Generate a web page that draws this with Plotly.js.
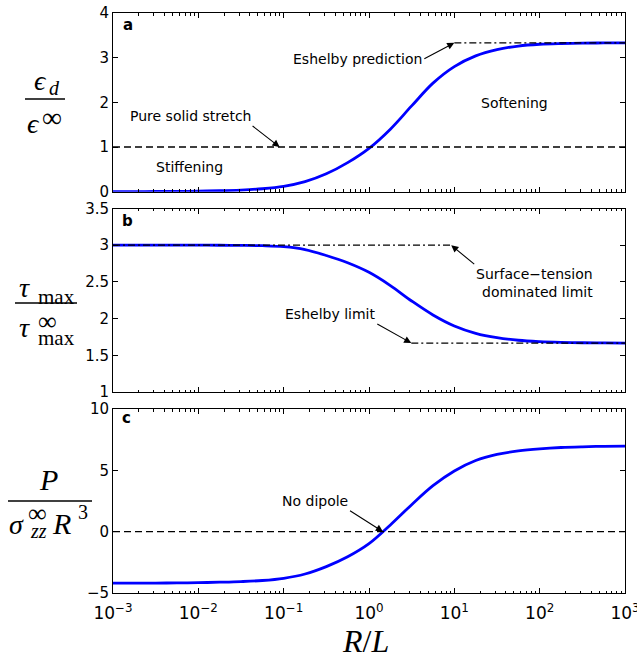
<!DOCTYPE html>
<html><head><meta charset="utf-8">
<script src="https://cdn.plot.ly/plotly-3.0.1.min.js"></script>
<style>body{margin:0;padding:0;background:#fff}</style>
</head><body><div id="chart" style="width:637px;height:661px"></div>
<script>
// ---- data ----
const rOverL = [0.001, 0.00178, 0.00316, 0.00562, 0.01, 0.0178, 0.0316, 0.0562, 0.1, 0.178, 0.316, 0.562, 1, 1.78, 3.16, 5.62, 10, 17.8, 31.6, 56.2, 100, 178, 316, 562, 1000];
const epsRatio = [0.0, 0.002, 0.004, 0.007, 0.012, 0.021, 0.037, 0.066, 0.12, 0.225, 0.40, 0.65, 0.97, 1.40, 1.92, 2.43, 2.80, 3.04, 3.18, 3.26, 3.30, 3.317, 3.325, 3.33, 3.333];
const tauRatio = [3.0, 3.0, 3.0, 3.0, 3.0, 2.999, 2.997, 2.993, 2.98, 2.94, 2.86, 2.76, 2.63, 2.45, 2.24, 2.05, 1.90, 1.80, 1.74, 1.705, 1.687, 1.677, 1.671, 1.668, 1.667];
const dipole = [-4.2, -4.195, -4.19, -4.175, -4.16, -4.12, -4.07, -3.98, -3.80, -3.45, -2.85, -2.05, -0.98, 0.55, 2.2, 3.75, 4.95, 5.8, 6.3, 6.58, 6.75, 6.86, 6.92, 6.96, 6.98];

const eshelbyPredX = [10, 1000], eshelbyPredY = [3.333, 3.333];
const stretchX = [0.001, 1000], stretchY = [1, 1];
const surfX = [0.001, 9], surfY = [3, 3];
const eshLimX = [3.13, 1000], eshLimY = [1.667, 1.667];
const zeroX = [0.001, 1000], zeroY = [0, 0];

const xTickVals = [0.001, 0.01, 0.1, 1, 10, 100, 1000];
const xTickText = ['10<sup>−3</sup>', '10<sup>−2</sup>', '10<sup>−1</sup>', '10<sup>0</sup>', '10<sup>1</sup>', '10<sup>2</sup>', '10<sup>3</sup>'];
const yTicksA = [0, 1, 2, 3, 4];
const yTicksB = [1, 1.5, 2, 2.5, 3, 3.5];
const yTicksC = [-5, 0, 5, 10];

// ---- styling ----
const BLUE = '#0000ff';
const SANS = 'DejaVu Sans, Liberation Sans, sans-serif';
const SERIF = 'Liberation Serif, DejaVu Serif, serif';
const DASH = '7px,4px';
const DASHDOT = '7px,3px,2px,3px';

function blue(y, xa, ya) {
  return {x: rOverL, y: y, xaxis: xa, yaxis: ya, type: 'scatter', mode: 'lines',
    line: {color: BLUE, width: 2.8, shape: 'spline', smoothing: 1}, hoverinfo: 'skip'};
}
function black(x, y, xa, ya, dash) {
  return {x: x, y: y, xaxis: xa, yaxis: ya, type: 'scatter', mode: 'lines',
    line: {color: '#000', width: 1.3, dash: dash}, hoverinfo: 'skip'};
}

const traces = [
  blue(epsRatio, 'x', 'y'),
  black(stretchX, stretchY, 'x', 'y', DASH),
  black(eshelbyPredX, eshelbyPredY, 'x', 'y', DASHDOT),
  blue(tauRatio, 'x2', 'y2'),
  black(surfX, surfY, 'x2', 'y2', DASHDOT),
  black(eshLimX, eshLimY, 'x2', 'y2', DASHDOT),
  blue(dipole, 'x3', 'y3'),
  black(zeroX, zeroY, 'x3', 'y3', DASH)
];

// pixel -> paper helpers (plot area: x 113..625, y 13..593)
const L = 113, R = 12, T = 13, B = 68, W = 637, H = 661;
const PW = W - L - R, PH = H - T - B;
const px = v => (v - L) / PW;
const py = v => (H - B - v) / PH;

function xAx(showLabels, anchor) {
  return {type: 'log', range: [-3, 3.00001], anchor: anchor, domain: [0, 1],
    showline: true, linecolor: '#000', linewidth: 1, mirror: 'ticks',
    ticks: 'inside', ticklen: 5, tickwidth: 1, tickcolor: '#000',
    tickmode: 'array', tickvals: xTickVals, ticktext: xTickText,
    showticklabels: showLabels, tickfont: {family: SANS, size: 17, color: '#000'},
    ticklabelstandoff: 5, ticklabeloverflow: 'allow',
    showgrid: false, zeroline: false,
    minor: {dtick: 'D1', ticks: 'inside', ticklen: 2.5, tickwidth: 1, tickcolor: '#000', showgrid: false}};
}
function yAx(range, vals, dom, anchor) {
  return {range: range, domain: dom, anchor: anchor,
    showline: true, linecolor: '#000', linewidth: 1, mirror: 'ticks',
    ticks: 'inside', ticklen: 5, tickwidth: 1, tickcolor: '#000',
    tickmode: 'array', tickvals: vals,
    tickfont: {family: SANS, size: 15, color: '#000'},
    showgrid: false, zeroline: false};
}

// text piece with left edge at pixel x and baseline at pixel y
function txt(text, x, base, size, family, anchor, extra) {
  const a = Object.assign({text: text, xref: 'paper', yref: 'paper',
    x: px(x), y: py(base - 0.34 * size), xanchor: anchor || 'left', yanchor: 'middle',
    showarrow: false, font: {family: family, size: size, color: '#000'}}, extra || {});
  return a;
}
function arrow(text, hx, hy, xr, yr, axp, ayp, xanc, yanc, align) {
  return {text: text, x: Math.log10(hx), y: hy, xref: xr, yref: yr, ax: axp, ay: ayp,
    xanchor: xanc, yanchor: yanc, align: align || 'left',
    showarrow: true, arrowhead: 2, arrowsize: 1.3, arrowwidth: 1.1, arrowcolor: '#000',
    standoff: 0, startstandoff: 0,
    font: {family: SANS, size: 14, color: '#000'}};
}

const annotations = [
  // panel letters
  txt('<b>a</b>', 121, 30, 15, SANS),
  txt('<b>b</b>', 120, 226, 15, SANS),
  txt('<b>c</b>', 120, 423, 15, SANS),
  // panel a texts
  arrow('Eshelby prediction', 10, 3.333, 'x', 'y', -30, 16, 'right', 'middle'),
  arrow('Pure solid stretch', 0.0896, 1, 'x', 'y', -27, -21, 'right', 'bottom'),
  txt('Stiffening', 189.5, 172, 14, SANS, 'center'),
  txt('Softening', 514, 108, 14, SANS, 'center'),
  // panel b texts
  arrow('Surface−tension<br>dominated limit', 9.2, 3, 'x2', 'y2', 23, 19, 'left', 'top', 'right'),
  arrow('Eshelby limit', 3.13, 1.667, 'x2', 'y2', -34, -19, 'right', 'bottom'),
  // panel c texts
  arrow('No dipole', 1.46, 0, 'x3', 'y3', -33, -21, 'right', 'bottom'),
  // y label a
  txt('<i>ϵ</i>', 32, 90, 28, SERIF),
  txt('<i>d</i>', 47, 95, 20, SERIF),
  txt('<i>ϵ</i>', 25, 133, 28, SERIF),
  txt('∞', 40, 127, 28, SERIF),
  // y label b
  txt('<i>τ</i>', 17, 297, 28, SERIF),
  txt('max', 36, 304, 21, SERIF),
  txt('<i>τ</i>', 17, 337, 28, SERIF),
  txt('∞', 36, 330, 26, SERIF),
  txt('max', 36, 345, 21, SERIF),
  // y label c
  txt('<i>P</i>', 37, 490, 30, SERIF),
  txt('<i>σ</i>', 7, 534, 28, SERIF),
  txt('∞', 26, 522, 26, SERIF),
  txt('<i>zz</i>', 28, 538, 20, SERIF),
  txt('<i>R</i>', 50, 534, 30, SERIF),
  txt('3', 76, 519, 20, SERIF),
  // x title
  txt('<i>R</i>/<i>L</i>', 365, 652, 32, SERIF, 'center')
];

const bar = (x0, x1, y) => ({type: 'line', xref: 'paper', yref: 'paper',
  x0: px(x0), x1: px(x1), y0: py(y), y1: py(y), line: {color: '#000', width: 1.4}});

const layout = {
  width: W, height: H,
  margin: {l: L, r: R, t: T, b: B, pad: 0},
  paper_bgcolor: '#fff', plot_bgcolor: '#fff',
  showlegend: false,
  xaxis: xAx(false, 'y'),
  xaxis2: xAx(false, 'y2'),
  xaxis3: xAx(true, 'y3'),
  yaxis: yAx([0, 4], yTicksA, [py(191.7), 1], 'x'),
  yaxis2: yAx([1, 3.5], yTicksB, [py(392), py(208.5)], 'x2'),
  yaxis3: yAx([-5, 10], yTicksC, [0, py(409)], 'x3'),
  annotations: annotations,
  shapes: [bar(25, 65, 99), bar(15, 77, 303), bar(8, 92, 501)]
};

Plotly.newPlot('chart', traces, layout, {displayModeBar: false, staticPlot: true});
</script></body></html>
